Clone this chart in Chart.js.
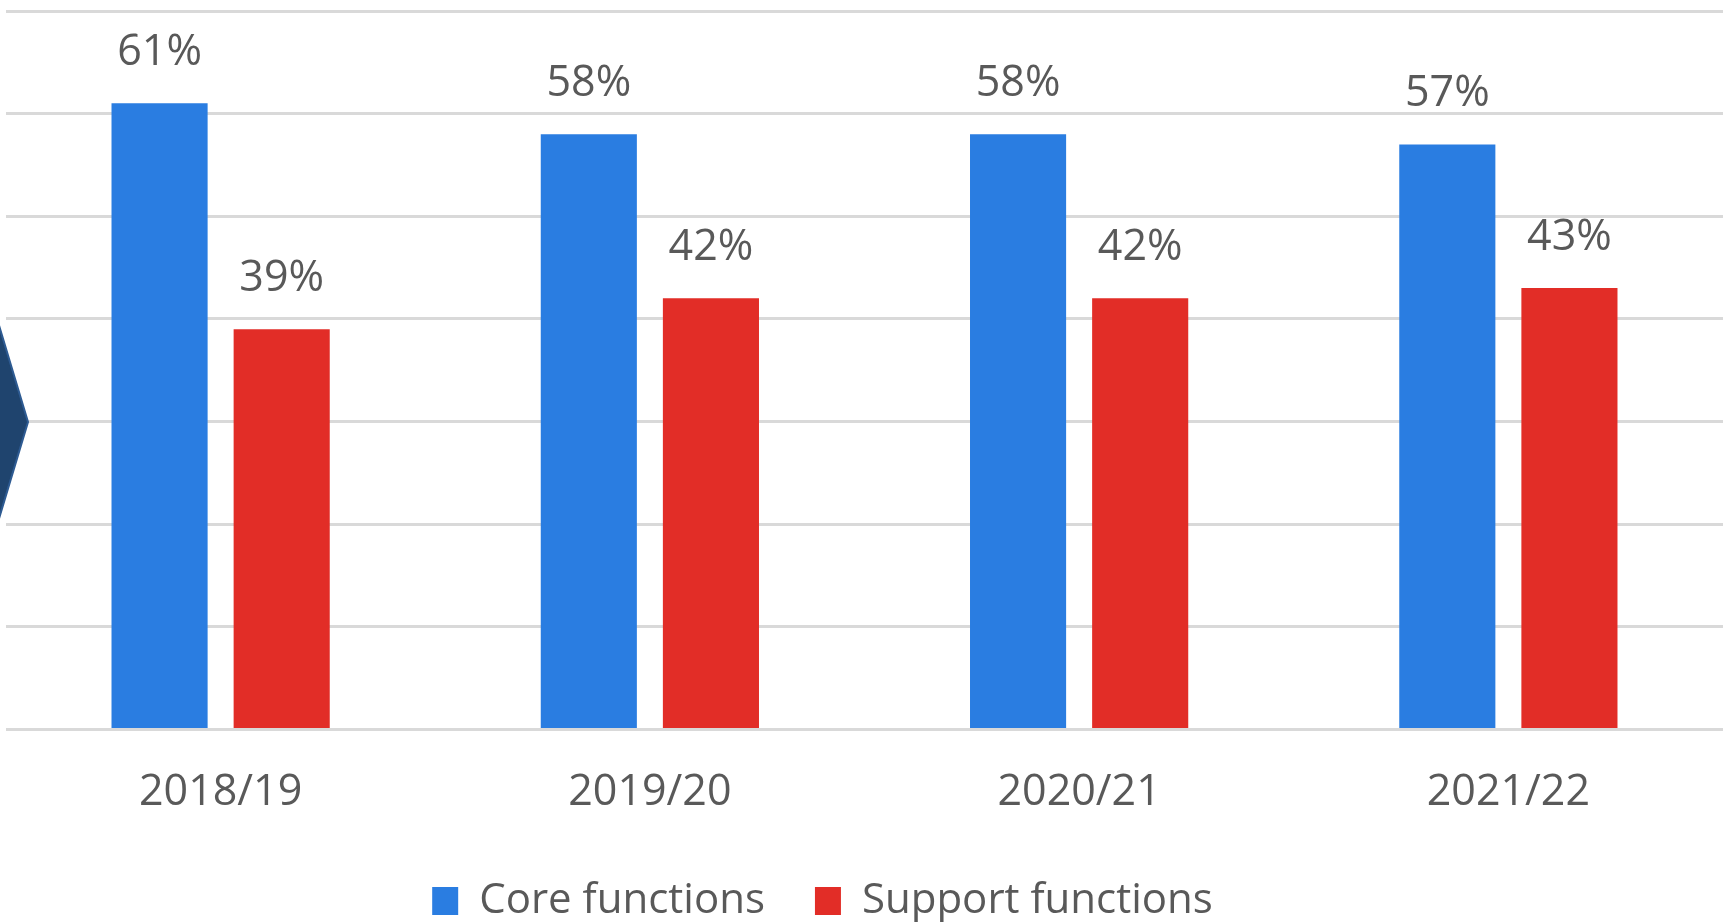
<!DOCTYPE html>
<html>
<head>
<meta charset="utf-8">
<title>Core vs support functions</title>
<script src="https://cdn.jsdelivr.net/npm/chart.js@4.4.1/dist/chart.umd.min.js"></script>
<style>
  html, body { margin: 0; padding: 0; background: #ffffff; }
  #wrap { width: 1729px; height: 922px; }
</style>
</head>
<body>
<div id="wrap"><canvas id="myChart" width="1729" height="922"></canvas></div>
<script>
const years = ["2018/19", "2019/20", "2020/21", "2021/22"];
const coreShare = [61, 58, 58, 57];
const supportShare = [39, 42, 42, 43];
const gridSteps = [0, 10, 20, 30, 40, 50, 60, 70];

const textGrey = "#595959";
const fontFamily = "'Open Sans', 'Noto Sans', sans-serif";

// value labels above each bar
const barLabels = {
  id: "barLabels",
  afterDatasetsDraw(chart) {
    const ctx = chart.ctx;
    ctx.save();
    ctx.font = "43px " + fontFamily;
    ctx.fillStyle = textGrey;
    ctx.textAlign = "center";
    ctx.textBaseline = "alphabetic";
    chart.data.datasets.forEach((ds, i) => {
      chart.getDatasetMeta(i).data.forEach((bar, j) => {
        ctx.fillText(ds.data[j] + "%", bar.x, bar.y - 38);
      });
    });
    ctx.restore();
  }
};

// legend sits a little left of centre
const legendShift = {
  id: "legendShift",
  afterLayout(chart) {
    if (chart.legend) {
      chart.legend.left -= 42;
      chart.legend.right -= 42;
    }
  }
};

// navy chevron poking in from the left edge
const chevron = {
  id: "chevron",
  afterDraw(chart) {
    const ctx = chart.ctx;
    ctx.save();
    ctx.beginPath();
    ctx.moveTo(-20, 262);
    ctx.lineTo(28, 422);
    ctx.lineTo(-20, 582);
    ctx.closePath();
    ctx.fillStyle = "#1F446E";
    ctx.fill();
    ctx.lineWidth = 2;
    ctx.strokeStyle = "#2E5B92";
    ctx.stroke();
    ctx.restore();
  }
};

const data = {
  labels: years,
  datasets: [
    {
      label: "Core functions",
      backgroundColor: "#2A7DE1",
      data: coreShare,
    },
    {
      label: "Support functions",
      backgroundColor: "#E22D27",
      data: supportShare,
    },
  ],
};

const config = {
  type: "bar",
  data: data,
  plugins: [barLabels, legendShift, chevron],
  options: {
    responsive: false,
    animation: false,
    categoryPercentage: 0.569,
    barPercentage: 0.787,
    layout: { padding: { left: 6, right: 6, top: 11, bottom: -10 } },
    plugins: {
      tooltip: { enabled: false },
      legend: {
        position: "bottom",
        labels: {
          color: textGrey,
          font: { family: fontFamily, size: 42 },
          boxWidth: 26,
          boxHeight: 28,
          padding: 50,
        },
      },
    },
    scales: {
      x: {
        grid: { display: false, drawTicks: false },
        border: { display: false },
        ticks: {
          color: textGrey,
          font: { family: fontFamily, size: 43 },
          padding: 38,
        },
        afterFit(axis) {
          axis.height -= 27;
        },
      },
      y: {
        min: gridSteps[0],
        max: gridSteps[gridSteps.length - 1],
        afterBuildTicks(axis) {
          axis.ticks = gridSteps.map(v => ({ value: v }));
        },
        ticks: { display: false },
        border: { display: false },
        grid: { color: "#D9D9D9", lineWidth: 3, drawTicks: false },
      },
    },
  },
};

var myChart = new Chart(document.getElementById("myChart"), config);
</script>
</body>
</html>
